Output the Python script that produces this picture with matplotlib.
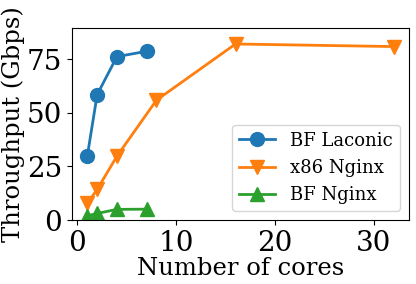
import matplotlib
matplotlib.use("Agg")
import matplotlib.pyplot as plt

plt.rcParams['font.family'] = 'DejaVu Serif'

laconic_cores = [1, 2, 4, 7]
laconic_tput = [29.8, 58.5, 76.2, 78.7]
x86_cores = [1, 2, 4, 8, 16, 32]
x86_tput = [7.8, 14.3, 29.8, 55.9, 82.1, 80.9]
bfnginx_cores = [1, 2, 4, 7]
bfnginx_tput = [2.0, 3.1, 5.0, 5.1]

fig, ax = plt.subplots(figsize=(4.16, 2.84), dpi=100)
ax.plot(laconic_cores, laconic_tput, marker='o', markersize=10, linewidth=2, label='BF Laconic')
ax.plot(x86_cores, x86_tput, marker='v', markersize=10, linewidth=2, label='x86 Nginx')
ax.plot(bfnginx_cores, bfnginx_tput, marker='^', markersize=10, linewidth=2, label='BF Nginx')

ax.set_ylim(0, 89.5)
ax.set_yticks([0, 25, 50, 75])
ax.set_xlabel('Number of cores', fontsize=17.5, labelpad=0)
ax.set_ylabel('Throughput (Gbps)', fontsize=17.5, labelpad=1)
ax.tick_params(labelsize=20)
ax.legend(fontsize=13, loc='lower right')

fig.subplots_adjust(left=0.173, right=0.983, top=0.901, bottom=0.225)
plt.savefig('out.png')
